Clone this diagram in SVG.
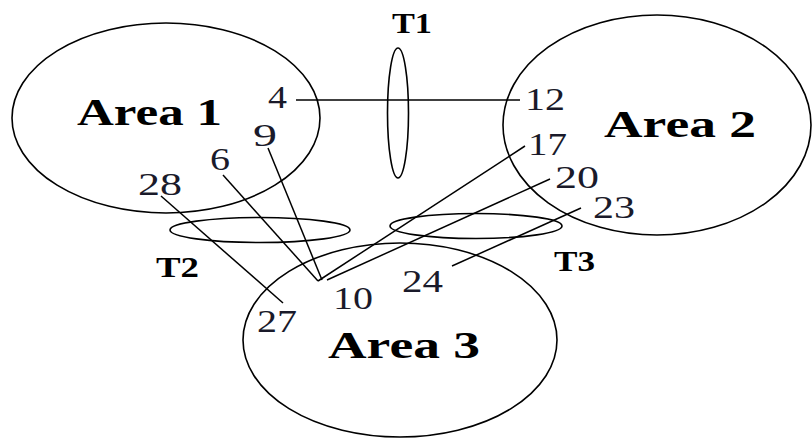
<svg xmlns="http://www.w3.org/2000/svg" width="812" height="438" viewBox="0 0 812 438">
<style>
.sh{fill:none;stroke:#000;stroke-width:1.6}
.ln{stroke:#000;stroke-width:1.5;fill:none}
.big{font-family:"Liberation Serif","Times New Roman",serif;font-weight:bold;font-size:37px;fill:#000}
.tl{font-family:"Liberation Serif","Times New Roman",serif;font-weight:bold;font-size:30px;fill:#000}
.num{font-family:"Liberation Serif","Times New Roman",serif;font-size:32px;fill:#1a1a2a}
</style>
<rect width="812" height="438" fill="#fff"/>
<g id="area1">
<ellipse class="sh" cx="166" cy="118" rx="154" ry="95"/>
<text class="big" x="77" y="125" textLength="145" lengthAdjust="spacingAndGlyphs">Area 1</text>
</g>
<g id="area2">
<ellipse class="sh" cx="657" cy="125" rx="154" ry="110"/>
<text class="big" x="604" y="137" textLength="152" lengthAdjust="spacingAndGlyphs">Area 2</text>
</g>
<g id="area3">
<ellipse class="sh" cx="400" cy="340" rx="157" ry="97"/>
<text class="big" x="328" y="358" textLength="152" lengthAdjust="spacingAndGlyphs">Area 3</text>
</g>
<g id="t1">
<ellipse class="sh" cx="398" cy="113" rx="10.5" ry="65"/>
<text class="tl" x="392" y="33" textLength="40" lengthAdjust="spacingAndGlyphs">T1</text>
</g>
<g id="t2">
<ellipse class="sh" cx="260" cy="230" rx="90" ry="12.5"/>
<text class="tl" x="156" y="277" textLength="43" lengthAdjust="spacingAndGlyphs">T2</text>
</g>
<g id="t3">
<ellipse class="sh" cx="476" cy="226" rx="86" ry="12.5"/>
<text class="tl" x="554" y="271" textLength="41" lengthAdjust="spacingAndGlyphs">T3</text>
</g>
<g id="connectors">
<line class="ln" x1="296" y1="100" x2="520" y2="100"/>
<line class="ln" x1="268" y1="148" x2="322" y2="280"/>
<line class="ln" x1="223" y1="175" x2="318" y2="281"/>
<line class="ln" x1="161" y1="196" x2="283" y2="303"/>
<line class="ln" x1="525" y1="146" x2="318" y2="281"/>
<line class="ln" x1="550" y1="179" x2="327" y2="280"/>
<line class="ln" x1="581" y1="208" x2="452" y2="266"/>
</g>
<g id="labels">
<text class="num" x="268" y="108" textLength="19" lengthAdjust="spacingAndGlyphs">4</text>
<text class="num" x="525" y="110" textLength="40" lengthAdjust="spacingAndGlyphs">12</text>
<text class="num" x="253" y="146" textLength="24" lengthAdjust="spacingAndGlyphs">9</text>
<text class="num" x="210" y="170" textLength="20" lengthAdjust="spacingAndGlyphs">6</text>
<text class="num" x="138" y="195" textLength="44" lengthAdjust="spacingAndGlyphs">28</text>
<text class="num" x="528" y="155" textLength="39" lengthAdjust="spacingAndGlyphs">17</text>
<text class="num" x="555" y="188" textLength="44" lengthAdjust="spacingAndGlyphs">20</text>
<text class="num" x="593" y="218" textLength="42" lengthAdjust="spacingAndGlyphs">23</text>
<text class="num" x="333" y="309" textLength="40" lengthAdjust="spacingAndGlyphs">10</text>
<text class="num" x="402" y="292" textLength="41" lengthAdjust="spacingAndGlyphs">24</text>
<text class="num" x="257" y="332" textLength="40" lengthAdjust="spacingAndGlyphs">27</text>
</g>
</svg>
